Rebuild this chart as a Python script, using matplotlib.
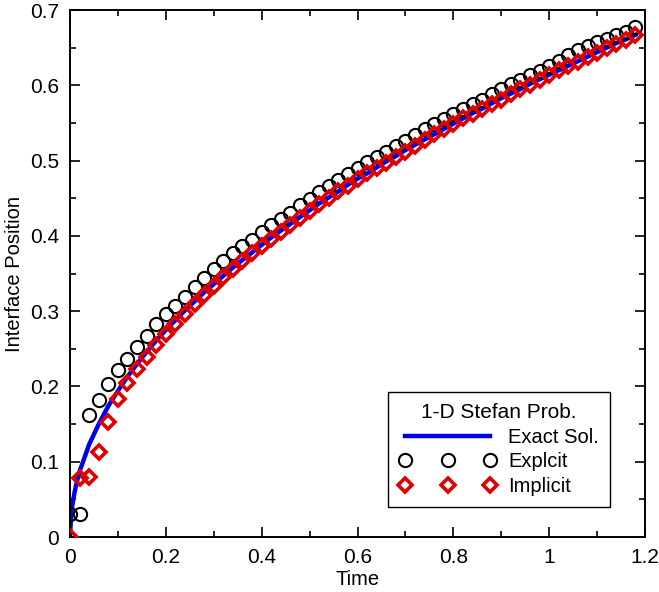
import numpy as np
import matplotlib
matplotlib.use('Agg')
from matplotlib import pyplot as plt
from matplotlib.ticker import MultipleLocator, FuncFormatter

plt.rcParams['font.family'] = ['Liberation Sans', 'DejaVu Sans']

# time grid of the numerical solutions (dt = 0.02)
time_pts = [0.00, 0.02, 0.04, 0.06, 0.08, 0.10, 0.12, 0.14, 0.16, 0.18,
            0.20, 0.22, 0.24, 0.26, 0.28, 0.30, 0.32, 0.34, 0.36, 0.38,
            0.40, 0.42, 0.44, 0.46, 0.48, 0.50, 0.52, 0.54, 0.56, 0.58,
            0.60, 0.62, 0.64, 0.66, 0.68, 0.70, 0.72, 0.74, 0.76, 0.78,
            0.80, 0.82, 0.84, 0.86, 0.88, 0.90, 0.92, 0.94, 0.96, 0.98,
            1.00, 1.02, 1.04, 1.06, 1.08, 1.10, 1.12, 1.14, 1.16, 1.18]

explicit_pos = [0.030, 0.030, 0.162, 0.182, 0.203, 0.222, 0.237, 0.253, 0.267, 0.283,
                0.296, 0.307, 0.319, 0.332, 0.344, 0.356, 0.367, 0.377, 0.386, 0.394,
                0.405, 0.414, 0.422, 0.431, 0.441, 0.449, 0.458, 0.466, 0.474, 0.482,
                0.490, 0.498, 0.505, 0.512, 0.520, 0.526, 0.534, 0.542, 0.548, 0.555,
                0.562, 0.569, 0.575, 0.581, 0.588, 0.595, 0.602, 0.607, 0.614, 0.619,
                0.626, 0.632, 0.640, 0.647, 0.652, 0.657, 0.662, 0.667, 0.671, 0.678]

implicit_pos = [0.000, 0.079, 0.080, 0.113, 0.153, 0.183, 0.205, 0.223, 0.239, 0.255,
                0.270, 0.283, 0.296, 0.309, 0.322, 0.333, 0.345, 0.356, 0.366, 0.377,
                0.387, 0.396, 0.405, 0.415, 0.424, 0.433, 0.442, 0.450, 0.459, 0.466,
                0.475, 0.483, 0.490, 0.497, 0.505, 0.512, 0.519, 0.527, 0.535, 0.542,
                0.549, 0.556, 0.562, 0.568, 0.575, 0.581, 0.588, 0.595, 0.600, 0.607,
                0.614, 0.620, 0.626, 0.631, 0.638, 0.643, 0.649, 0.655, 0.660, 0.667]

# exact solution, a few extra samples near t=0 where it rises steeply
exact_t = [0.0, 0.0025, 0.005, 0.01, 0.015, 0.02, 0.04, 0.06, 0.08, 0.10, 0.12, 0.14,
           0.16, 0.18, 0.20, 0.22, 0.24, 0.26, 0.28, 0.30, 0.32, 0.34, 0.36, 0.38,
           0.40, 0.42, 0.44, 0.46, 0.48, 0.50, 0.52, 0.54, 0.56, 0.58, 0.60, 0.62,
           0.64, 0.66, 0.68, 0.70, 0.72, 0.74, 0.76, 0.78, 0.80, 0.82, 0.84, 0.86,
           0.88, 0.90, 0.92, 0.94, 0.96, 0.98, 1.00, 1.02, 1.04, 1.06, 1.08, 1.10,
           1.12, 1.14, 1.16, 1.18]
exact_pos = [0.000, 0.031, 0.043, 0.061, 0.075, 0.087, 0.123, 0.150, 0.174, 0.194, 0.213, 0.230,
             0.246, 0.261, 0.275, 0.288, 0.301, 0.313, 0.325, 0.336, 0.347, 0.358, 0.368, 0.378,
             0.388, 0.398, 0.407, 0.416, 0.425, 0.434, 0.443, 0.451, 0.459, 0.468, 0.476, 0.483,
             0.491, 0.499, 0.506, 0.514, 0.521, 0.528, 0.535, 0.542, 0.549, 0.556, 0.563, 0.569,
             0.576, 0.583, 0.589, 0.595, 0.602, 0.608, 0.614, 0.620, 0.626, 0.632, 0.638, 0.644,
             0.650, 0.656, 0.661, 0.667]

fig = plt.figure(figsize=(6.59, 5.92), dpi=100)
ax = fig.add_axes([0.1062, 0.0929, 0.8726, 0.8902])

ax.plot(exact_t, exact_pos, color='#0000ee', lw=3.2, label='Exact Sol.', zorder=2)
ax.plot(time_pts, explicit_pos, ls='none', marker='o', ms=9.5, mfc='none', mec='black',
        mew=1.5, label='Explcit', zorder=3)
ax.plot(time_pts, implicit_pos, ls='none', marker='D', ms=6.8, mfc='none', mec='#e00000',
        mew=2.6, label='Implicit', zorder=4)

ax.set_xlim(0, 1.2)
ax.set_ylim(0, 0.7)
ax.xaxis.set_major_locator(MultipleLocator(0.2))
ax.xaxis.set_minor_locator(MultipleLocator(0.1))
ax.yaxis.set_major_locator(MultipleLocator(0.1))
ax.yaxis.set_minor_locator(MultipleLocator(0.05))
fmt = FuncFormatter(lambda v, p: '%g' % round(v, 3))
ax.xaxis.set_major_formatter(fmt)
ax.yaxis.set_major_formatter(fmt)
ax.tick_params(which='both', direction='in', top=True, right=True, labelsize=15, width=1.2)
ax.tick_params(which='major', length=7, pad=8)
ax.tick_params(which='minor', length=4)
for sp in ax.spines.values():
    sp.set_linewidth(1.4)

ax.set_xlabel('Time', fontsize=14.5, labelpad=2)
ax.set_ylabel('Interface Position', fontsize=14.5, labelpad=4)

leg = ax.legend(loc='lower right', bbox_to_anchor=(0.939, 0.057), borderaxespad=0,
                title='1-D Stefan Prob.', title_fontsize=15, fontsize=14.5, numpoints=3,
                handlelength=4.8, handletextpad=0.6, fancybox=False, framealpha=1,
                edgecolor='black', borderpad=0.55, labelspacing=0.28)
leg.get_frame().set_linewidth(1.0)

fig.savefig('out.png', dpi=100)
